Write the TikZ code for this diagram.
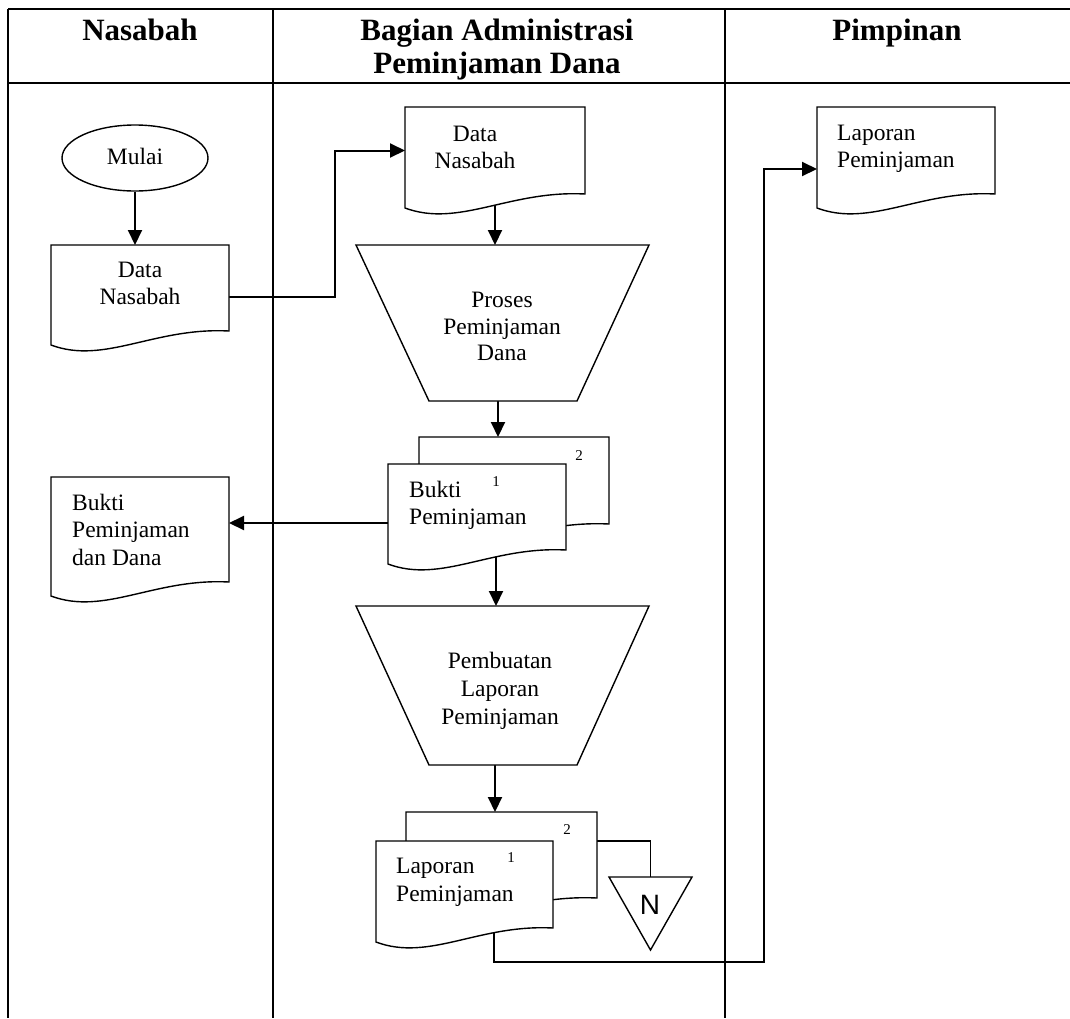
\documentclass[tikz,border=0pt]{standalone}
\usepackage{fontspec}
\setmainfont{Liberation Serif}
\newfontfamily\sansN{Liberation Sans}
\usetikzlibrary{arrows.meta,calc,shapes.geometric}
\newcommand\docoutline[1]{%
  \path[shp] ($(#1.south west)+(0,14)$) -- (#1.north west) -- (#1.north east) -- (#1.south east)
   .. controls ($(#1.south west)!0.58!(#1.south east)+(0,-4)$) and ($(#1.south west)!0.3!(#1.south east)+(0,34)$) .. ($(#1.south west)+(0,14)$) -- cycle;}
\newcommand\trapoutline[1]{%
  \path[shp] (#1.north west) -- (#1.north east) -- ($(#1.south east)+(-72,0)$) -- ($(#1.south west)+(73,0)$) -- cycle;}
\begin{document}
\begin{tikzpicture}[x=1pt,y={(0pt,-1pt)},
  tbl/.style={line width=2.2pt},
  shp/.style={draw,fill=white,line width=1.4pt},
  box/.style 2 args={inner sep=0pt,outer sep=0pt,minimum width=#1,minimum height=#2},
  arr/.style={line width=2pt,-{Triangle[length=15pt,width=14pt]}},
  conn/.style={line width=1.7pt},
  txt/.style={inner sep=0pt,font=\fontsize{23.5}{28}\selectfont,anchor=base},
  ltxt/.style={inner sep=0pt,font=\fontsize{23.5}{28}\selectfont,anchor=base west},
  hdr/.style={inner sep=0pt,font=\fontsize{31}{36}\selectfont\bfseries,anchor=base},
  num/.style={inner sep=0pt,font=\fontsize{15}{17}\selectfont}]
\useasboundingbox (0,0) rectangle (1070,1018);
% table
\draw[tbl] (8,9) -- (1070,9);
\draw[tbl] (8,83) -- (1070,83);
\draw[tbl] (8,9) -- (8,1018);
\draw[tbl] (273,9) -- (273,1018);
\draw[tbl] (725,9) -- (725,1018);
\node[hdr] (h1) at (140,40) {Nasabah};
\node[hdr] (h2) at (497,40) {Bagian Administrasi};
\node[hdr] (h3) at (497,73) {Peminjaman Dana};
\node[hdr] (h4) at (897,40) {Pimpinan};
% shape placeholders
\node[ellipse,shp,minimum width=146,minimum height=66,inner sep=0pt] (mulai) at (135,158) {};
\node[box={178}{86}] (A) at (140,288) {};
\node[box={180}{87}] (B) at (495,150.5) {};
\node[box={293}{156}] (T1) at (502.5,323) {};
\node[box={190}{87}] (Cb) at (514,480.5) {};
\node[box={178}{86}] (Cf) at (477,507) {};
\node[box={178}{105}] (D) at (140,529.5) {};
\node[box={293}{159}] (T2) at (502.5,685.5) {};
\node[box={191}{86}] (Eb) at (501.5,855) {};
\node[box={177}{87}] (Ef) at (464.5,884.5) {};
\node[box={83}{73}] (tri) at (650.5,913.5) {};
\node[box={178}{87}] (F) at (906,150.5) {};
\coordinate (k1) at (764,962);
% connectors
\draw[arr] (mulai.south) -- (mulai.south |- A.north);
\draw[arr] ([yshift=-9pt]A.east) -- ++(106,0) |- (B.west);
\draw[arr] (B.south) -- (B.south |- T1.north);
\draw[arr] ([xshift=-4.5pt]T1.south) -- ([xshift=-4.5pt]T1.south |- Cb.north);
\draw[arr] ([yshift=-16pt]Cf.west) -- ([yshift=-16pt]Cf.west -| D.east);
\draw[arr] ([xshift=19pt]Cf.south) -- ([xshift=19pt]Cf.south |- T2.north);
\draw[arr] ([xshift=-7.5pt]T2.south) -- ([xshift=-7.5pt]T2.south |- Eb.north);
\draw[conn] ([yshift=14pt]Eb.east) -| (tri.north);
\draw[arr] ([xshift=29.5pt]Ef.south) |- (k1) |- ([yshift=-18.5pt]F.west);
% shapes
\docoutline{A}
\docoutline{B}
\trapoutline{T1}
\docoutline{Cb}
\docoutline{Cf}
\docoutline{D}
\trapoutline{T2}
\docoutline{Eb}
\docoutline{Ef}
\docoutline{F}
\path[shp] (tri.north west) -- (tri.north east) -- (tri.south) -- cycle;
% texts
\node[txt] (tm) at (135,164) {Mulai};
\node[txt] (ta1) at (140,277) {Data};
\node[txt] (ta2) at (140,304) {Nasabah};
\node[txt] (tb1) at (475,141) {Data};
\node[txt] (tb2) at (475,168) {Nasabah};
\node[txt] (tt1) at (502,307) {Proses};
\node[txt] (tt2) at (502,334) {Peminjaman};
\node[txt] (tt3) at (502,360) {Dana};
\node[ltxt] (tc1) at (409,497) {Bukti};
\node[ltxt] (tc2) at (409,524) {Peminjaman};
\node[num] (nc1) at (496,482) {1};
\node[num] (nc2) at (579,456) {2};
\node[ltxt] (td1) at (72,510) {Bukti};
\node[ltxt] (td2) at (72,537) {Peminjaman};
\node[ltxt] (td3) at (72,565) {dan Dana};
\node[txt] (tp1) at (500,668) {Pembuatan};
\node[txt] (tp2) at (500,696) {Laporan};
\node[txt] (tp3) at (500,724) {Peminjaman};
\node[ltxt] (te1) at (396,873) {Laporan};
\node[ltxt] (te2) at (396,901) {Peminjaman};
\node[num] (ne1) at (511,858) {1};
\node[num] (ne2) at (567,830) {2};
\node[inner sep=0pt,font=\sansN\fontsize{28}{32}\selectfont] (tn) at (650,905) {N};
\node[ltxt] (tf1) at (837,140) {Laporan};
\node[ltxt] (tf2) at (837,167) {Peminjaman};
\end{tikzpicture}
\end{document}
